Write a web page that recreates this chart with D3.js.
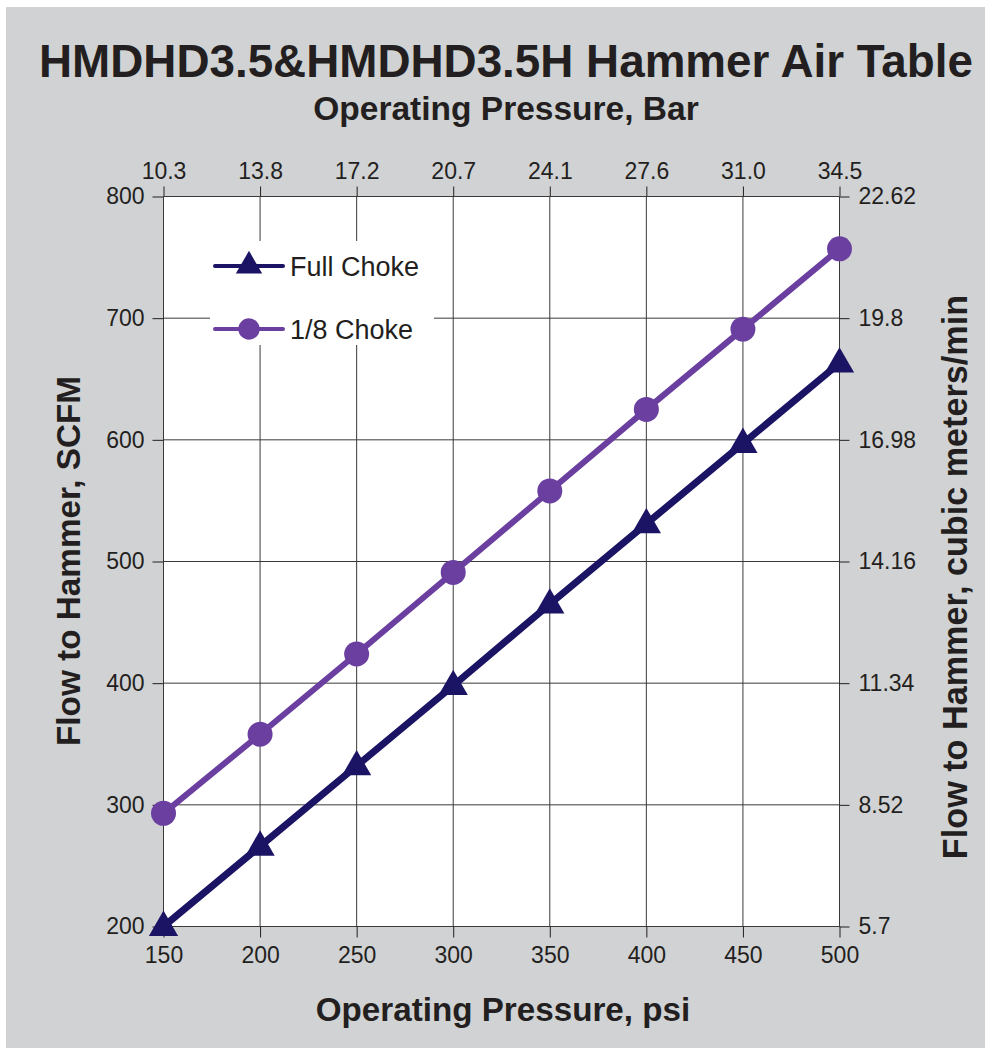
<!DOCTYPE html>
<html>
<head>
<meta charset="utf-8">
<script src="https://cdn.jsdelivr.net/npm/d3@7"></script>
<style>
  body { margin: 0; background: #fff; }
  svg { display: block; font-family: "Liberation Sans", Arial, sans-serif; }
  .tick text { fill: #231f20; }
</style>
</head>
<body>
<div id="chart"></div>
<script>
const psi = [150, 200, 250, 300, 350, 400, 450, 500];
const fullChoke = [200, 266, 332, 398, 465, 531, 597, 663];
const eighthChoke = [293, 358, 424, 491, 558, 625, 691, 757];
const barLabels = ["10.3", "13.8", "17.2", "20.7", "24.1", "27.6", "31.0", "34.5"];
const scfmTicks = [200, 300, 400, 500, 600, 700, 800];
const cmmTicks = [5.7, 8.52, 11.34, 14.16, 16.98, 19.8, 22.62];
const cmmLabels = ["5.7", "8.52", "11.34", "14.16", "16.98", "19.8", "22.62"];

const width = 985, height = 1048;
const plot = { left: 163.5, right: 839.5, top: 196.5, bottom: 926.5 };
const navy = "#1b1464", purple = "#6b3fa0", ink = "#231f20";

const svg = d3.select("#chart").append("svg")
  .attr("width", width).attr("height", height);

svg.append("rect")
  .attr("x", 6).attr("y", 7)
  .attr("width", width - 6).attr("height", height - 7)
  .attr("fill", "#d1d2d4");

const x = d3.scaleLinear().domain([150, 500]).range([plot.left, plot.right]);
const y = d3.scaleLinear().domain([200, 800]).range([plot.bottom, plot.top]);
const y2 = d3.scaleLinear().domain([5.7, 22.62]).range([plot.bottom, plot.top]);

svg.append("rect")
  .attr("x", plot.left).attr("y", plot.top)
  .attr("width", plot.right - plot.left).attr("height", plot.bottom - plot.top)
  .attr("fill", "#fff");

// gridlines
const grid = svg.append("g").attr("stroke", "#3a3a3a").attr("stroke-width", 1);
grid.selectAll("line.v").data(psi).join("line")
  .attr("x1", d => x(d)).attr("x2", d => x(d))
  .attr("y1", plot.top).attr("y2", plot.bottom);
grid.selectAll("line.h").data(scfmTicks).join("line")
  .attr("x1", plot.left).attr("x2", plot.right)
  .attr("y1", d => y(d)).attr("y2", d => y(d));

// axes
const fontTick = 23;
function styleAxis(g) {
  g.select(".domain").remove();
  g.selectAll(".tick line").attr("stroke", ink);
  g.selectAll(".tick text").attr("font-size", fontTick);
}
svg.append("g").attr("transform", `translate(${plot.left},0)`)
  .call(d3.axisLeft(y).tickValues(scfmTicks).tickSize(11).tickPadding(8))
  .call(styleAxis);
svg.append("g").attr("transform", `translate(${plot.right},0)`)
  .call(d3.axisRight(y2).tickValues(cmmTicks).tickSize(10).tickPadding(9)
    .tickFormat((d, i) => cmmLabels[i]))
  .call(styleAxis);
svg.append("g").attr("transform", `translate(0,${plot.bottom})`)
  .call(d3.axisBottom(x).tickValues(psi).tickSize(11).tickPadding(9))
  .call(styleAxis);
svg.append("g").attr("transform", `translate(0,${plot.top})`)
  .call(d3.axisTop(x).tickValues(psi).tickSize(10).tickPadding(8)
    .tickFormat((d, i) => barLabels[i]))
  .call(styleAxis);

// legend box
svg.append("rect")
  .attr("x", 210).attr("y", 241).attr("width", 224).attr("height", 104)
  .attr("fill", "#fff");

const series = [
  { name: "Full Choke", values: fullChoke, color: navy, width: 7, shape: d3.symbolTriangle },
  { name: "1/8 Choke", values: eighthChoke, color: purple, width: 6, shape: d3.symbolCircle }
];

const line = d3.line().x((d, i) => x(psi[i])).y(d => y(d));
const markerSize = s => s.shape === d3.symbolTriangle ? 370 : 490;

series.forEach(s => {
  svg.append("path")
    .attr("d", line(s.values))
    .attr("fill", "none").attr("stroke", s.color)
    .attr("stroke-width", s.width).attr("stroke-linejoin", "round");
  svg.append("g").selectAll("path").data(s.values).join("path")
    .attr("transform", (d, i) => `translate(${x(psi[i])},${y(d) + (s.shape === d3.symbolTriangle ? 1 : 0)})`)
    .attr("d", d3.symbol(s.shape, markerSize(s)))
    .attr("fill", s.color);
});

// legend
const legend = svg.append("g");
series.forEach((s, i) => {
  const ly = 266 + i * 63;
  legend.append("line")
    .attr("x1", 215).attr("x2", 283).attr("y1", ly).attr("y2", ly)
    .attr("stroke", s.color).attr("stroke-width", 4).attr("stroke-linecap", "round");
  legend.append("path")
    .attr("transform", `translate(249,${ly})`)
    .attr("d", d3.symbol(s.shape, s.shape === d3.symbolTriangle ? 300 : 360))
    .attr("fill", s.color);
  legend.append("text")
    .attr("x", 290).attr("y", ly + 10)
    .attr("font-size", 27).attr("fill", ink)
    .text(s.name);
});

// titles
svg.append("text")
  .attr("x", 506).attr("y", 77).attr("text-anchor", "middle")
  .attr("font-size", 45.8).attr("font-weight", "bold").attr("fill", ink)
  .text("HMDHD3.5&HMDHD3.5H Hammer Air Table");
svg.append("text")
  .attr("x", 506).attr("y", 120).attr("text-anchor", "middle")
  .attr("font-size", 33.5).attr("font-weight", "bold").attr("fill", ink)
  .text("Operating Pressure, Bar");
svg.append("text")
  .attr("x", 503).attr("y", 1021).attr("text-anchor", "middle")
  .attr("font-size", 33.2).attr("font-weight", "bold").attr("fill", ink)
  .text("Operating Pressure, psi");
svg.append("text")
  .attr("transform", `translate(80,561) rotate(-90)`).attr("text-anchor", "middle")
  .attr("font-size", 33.3).attr("font-weight", "bold").attr("fill", ink)
  .text("Flow to Hammer, SCFM");
svg.append("text")
  .attr("transform", `translate(967,577) rotate(-90)`).attr("text-anchor", "middle")
  .attr("font-size", 34.2).attr("font-weight", "bold").attr("fill", ink)
  .text("Flow to Hammer, cubic meters/min");
</script>
</body>
</html>
